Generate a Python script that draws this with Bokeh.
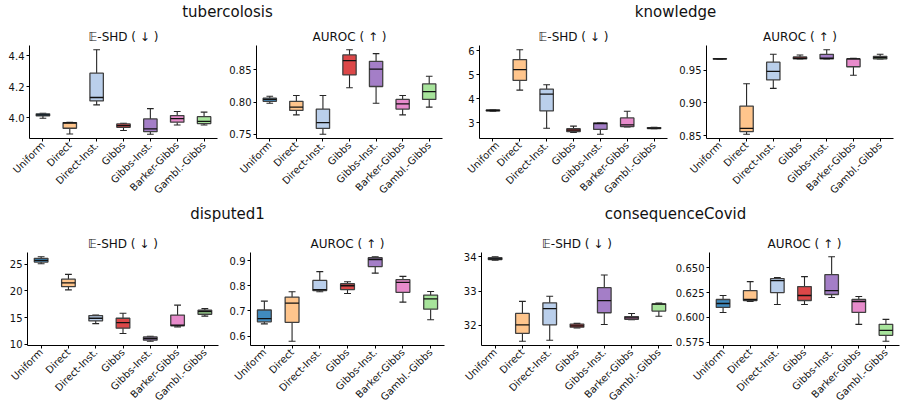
import math
from bokeh.plotting import figure
from bokeh.layouts import column, row
from bokeh.models import Range1d, FixedTicker, ColumnDataSource
from bokeh.embed import file_html
from bokeh.resources import INLINE
from bokeh.core.properties import value

methods = ["Uniform", "Direct", "Direct-Inst.", "Gibbs", "Gibbs-Inst.", "Barker-Gibbs", "Gambl.-Gibbs"]
colors = ["#1f77b4", "#ffbb78", "#aec7e8", "#d62728", "#9467bd", "#e377c2", "#98df8a"]
groups = ["tubercolosis", "knowledge", "disputed1", "consequenceCovid"]
metrics = ["\U0001D53C-SHD ( \u2193 )", "AUROC ( \u2191 )"]

# each entry: (whisker_low, q1, median, q3, whisker_high) per method
tub_shd = [(3.996, 4.011, 4.017, 4.024, 4.028), (3.894, 3.931, 3.965, 3.968, 3.970),
           (4.082, 4.108, 4.130, 4.287, 4.439), (3.916, 3.937, 3.948, 3.959, 3.963),
           (3.892, 3.909, 3.927, 3.991, 4.058), (3.952, 3.970, 3.993, 4.013, 4.039),
           (3.952, 3.961, 3.976, 4.006, 4.035)]
tub_auc = [(0.798, 0.801, 0.804, 0.806, 0.809), (0.780, 0.787, 0.792, 0.801, 0.810),
           (0.750, 0.759, 0.768, 0.789, 0.810), (0.822, 0.842, 0.864, 0.873, 0.881),
           (0.798, 0.824, 0.851, 0.863, 0.875), (0.780, 0.789, 0.797, 0.804, 0.810),
           (0.792, 0.804, 0.816, 0.828, 0.840)]
kno_shd = [(3.49, 3.50, 3.52, 3.54, 3.55), (4.37, 4.77, 5.22, 5.64, 6.05),
           (2.78, 3.50, 4.20, 4.41, 4.59), (2.61, 2.64, 2.70, 2.76, 2.87),
           (2.53, 2.73, 2.97, 3.00, 3.01), (2.83, 2.85, 2.92, 3.21, 3.49),
           (2.76, 2.77, 2.79, 2.81, 2.82)]
kno_auc = [(0.9665, 0.9668, 0.967, 0.9672, 0.9675), (0.852, 0.856, 0.861, 0.895, 0.929),
           (0.922, 0.935, 0.948, 0.962, 0.974), (0.967, 0.967, 0.968, 0.970, 0.973),
           (0.967, 0.967, 0.968, 0.974, 0.981), (0.942, 0.955, 0.967, 0.967, 0.968),
           (0.967, 0.967, 0.969, 0.971, 0.974)]
dis_shd = [(25.1, 25.4, 25.7, 26.1, 26.4), (20.2, 20.8, 21.5, 22.2, 23.1),
           (13.9, 14.4, 14.9, 15.4, 15.5), (12.05, 13.05, 14.1, 14.9, 15.85),
           (10.6, 10.8, 11.1, 11.4, 11.55), (13.3, 13.5, 13.6, 15.5, 17.35),
           (15.3, 15.65, 16.15, 16.4, 16.7)]
dis_auc = [(0.649, 0.657, 0.670, 0.704, 0.739), (0.580, 0.655, 0.731, 0.755, 0.776),
           (0.776, 0.781, 0.785, 0.821, 0.856), (0.769, 0.785, 0.800, 0.808, 0.816),
           (0.850, 0.876, 0.904, 0.911, 0.915), (0.735, 0.774, 0.813, 0.824, 0.837),
           (0.665, 0.707, 0.748, 0.763, 0.777)]
cov_shd = [(33.90, 33.92, 33.94, 33.97, 34.00), (31.54, 31.77, 32.02, 32.35, 32.70),
           (31.57, 32.02, 32.49, 32.66, 32.85), (31.93, 31.95, 31.99, 32.04, 32.06),
           (32.03, 32.37, 32.72, 33.10, 33.47), (32.17, 32.18, 32.22, 32.26, 32.35),
           (32.27, 32.42, 32.62, 32.63, 32.65)]
cov_auc = [(0.605, 0.610, 0.614, 0.618, 0.622), (0.616, 0.617, 0.618, 0.627, 0.636),
           (0.613, 0.625, 0.637, 0.639, 0.640), (0.613, 0.617, 0.622, 0.631, 0.641),
           (0.620, 0.623, 0.627, 0.643, 0.661), (0.593, 0.605, 0.616, 0.618, 0.621),
           (0.576, 0.582, 0.587, 0.593, 0.598)]

tub_shd_ticks = [4.0, 4.2, 4.4]
tub_shd_labels = ["4.0", "4.2", "4.4"]
tub_auc_ticks = [0.75, 0.80, 0.85]
tub_auc_labels = ["0.75", "0.80", "0.85"]
kno_shd_ticks = [3, 4, 5, 6]
kno_shd_labels = ["3", "4", "5", "6"]
kno_auc_ticks = [0.85, 0.90, 0.95]
kno_auc_labels = ["0.85", "0.90", "0.95"]
dis_shd_ticks = [10, 15, 20, 25]
dis_shd_labels = ["10", "15", "20", "25"]
dis_auc_ticks = [0.6, 0.7, 0.8, 0.9]
dis_auc_labels = ["0.6", "0.7", "0.8", "0.9"]
cov_shd_ticks = [32, 33, 34]
cov_shd_labels = ["32", "33", "34"]
cov_auc_ticks = [0.575, 0.600, 0.625, 0.650]
cov_auc_labels = ["0.575", "0.600", "0.625", "0.650"]

FONT = "DejaVu Sans"
TITLE_FONT = "DejaVu Sans, DejaVu Serif, Noto Sans Math, STIX Two Math, FreeSerif, Noto Sans"
FRAME_H = 93
TOP_B = 20


def panel(stats, ticks, labels, title, fw, bl, br, bb):
    lo, q1, med, q3, hi = (list(v) for v in zip(*stats))
    xs = list(range(1, len(methods) + 1))
    ymin, ymax = min(lo), max(hi)
    pad = 0.05 * (ymax - ymin)
    p = figure(frame_width=fw, frame_height=FRAME_H,
               x_range=Range1d(0.5, len(methods) + 0.5),
               y_range=Range1d(ymin - pad, ymax + pad),
               output_backend="svg", toolbar_location=None, title=title,
               min_border_left=bl, min_border_right=br,
               min_border_top=TOP_B, min_border_bottom=bb)
    src = ColumnDataSource(dict(x=xs, lo=lo, q1=q1, med=med, q3=q3, hi=hi, color=colors,
                                cl=[x - 0.125 for x in xs], cr=[x + 0.125 for x in xs],
                                bl=[x - 0.25 for x in xs], br=[x + 0.25 for x in xs]))
    wc = "#262626"
    p.segment(x0="x", y0="lo", x1="x", y1="q1", source=src, line_color=wc, line_width=1.1)
    p.segment(x0="x", y0="q3", x1="x", y1="hi", source=src, line_color=wc, line_width=1.1)
    p.segment(x0="cl", y0="lo", x1="cr", y1="lo", source=src, line_color=wc, line_width=1.1)
    p.segment(x0="cl", y0="hi", x1="cr", y1="hi", source=src, line_color=wc, line_width=1.1)
    p.vbar(x="x", width=0.5, bottom="q1", top="q3", source=src, fill_color="color",
           fill_alpha=0.85, line_color="#404040", line_width=1.3)
    p.segment(x0="bl", y0="med", x1="br", y1="med", source=src, line_color="#111111",
              line_width=1.3)

    p.title.align = "center"
    p.title.text_font = TITLE_FONT
    p.title.text_font_size = "12px"
    p.title.text_font_style = "normal"
    p.title.text_color = "#111111"
    p.title.standoff = 3
    p.xgrid.visible = False
    p.ygrid.visible = False
    p.outline_line_color = None
    p.xaxis.ticker = FixedTicker(ticks=xs)
    p.xaxis.major_label_overrides = {x: m for x, m in zip(xs, methods)}
    p.xaxis.major_label_orientation = math.pi / 4
    p.yaxis.ticker = FixedTicker(ticks=ticks)
    p.yaxis.major_label_overrides = {t: s for t, s in zip(ticks, labels)}
    for ax in (p.xaxis[0], p.yaxis[0]):
        ax.axis_line_color = "#000000"
        ax.axis_line_width = 1
        ax.major_tick_line_color = "#000000"
        ax.major_tick_in = 0
        ax.major_tick_out = 3
        ax.minor_tick_line_color = None
        ax.major_label_text_font = FONT
        ax.major_label_text_font_size = "10px"
        ax.major_label_text_color = "#111111"
        ax.major_label_standoff = 2
    return p


def header(width, height, texts, centers, y_from_top):
    h = figure(width=width, height=height, x_range=Range1d(0, width),
               y_range=Range1d(0, height), output_backend="svg", toolbar_location=None,
               x_axis_type=None, y_axis_type=None, min_border=0)
    h.outline_line_color = None
    h.xgrid.visible = False
    h.ygrid.visible = False
    h.text(x=centers, y=[height - y_from_top] * len(texts), text=texts,
           text_align="center", text_baseline="alphabetic",
           text_font=value(FONT), text_font_size="15px", text_color="#111111")
    return h


W = 900
row1 = row(
    panel(tub_shd, tub_shd_ticks, tub_shd_labels, metrics[0], 188, 29, 8, 62),
    panel(tub_auc, tub_auc_ticks, tub_auc_labels, metrics[1], 186, 31, 23, 62),
    panel(kno_shd, kno_shd_ticks, kno_shd_labels, metrics[0], 188, 14, 9, 62),
    panel(kno_auc, kno_auc_ticks, kno_auc_labels, metrics[1], 187, 30, 7, 62),
)
row2 = row(
    panel(dis_shd, dis_shd_ticks, dis_shd_labels, metrics[0], 191, 27, 8, 62),
    panel(dis_auc, dis_auc_ticks, dis_auc_labels, metrics[1], 194, 22, 16, 62),
    panel(cov_shd, cov_shd_ticks, cov_shd_labels, metrics[0], 191, 19, 0, 62),
    panel(cov_auc, cov_auc_ticks, cov_auc_labels, metrics[1], 190, 33, 9, 62),
)
head1 = header(W, 45 - TOP_B, groups[:2], [227, 675], 11.5)
head2 = header(W, 250 - TOP_B - 200, groups[2:], [227, 675], 11.5)

layout = column(head1, row1, head2, row2)
open("out.html", "w").write(file_html(layout, INLINE))
